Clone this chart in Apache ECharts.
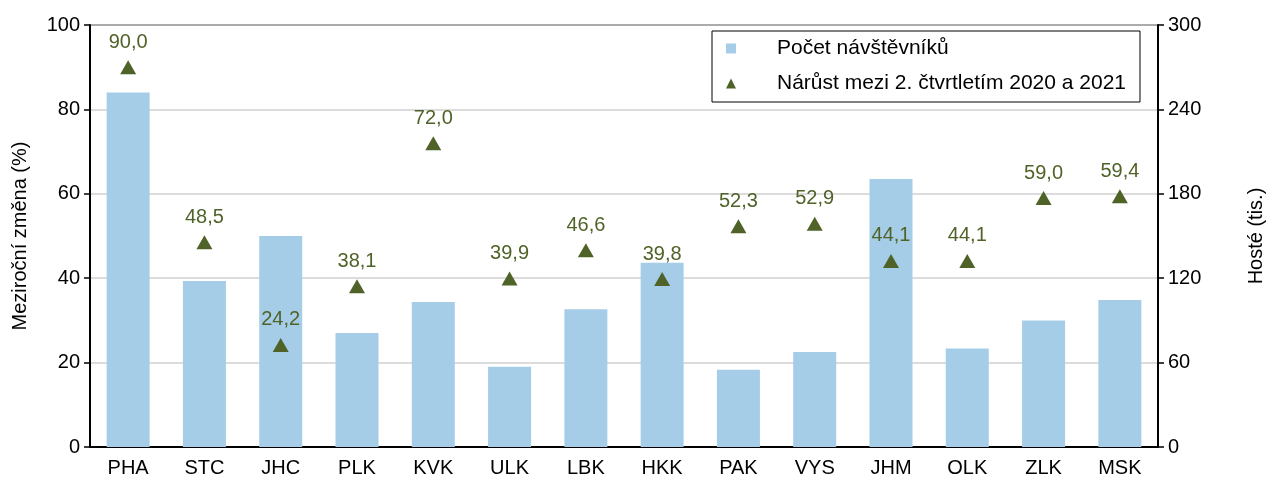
<!DOCTYPE html>
<html>
<head>
	<meta charset="UTF-8">
	<title>Návštěvníci podle krajů</title>
	<script src="https://cdn.jsdelivr.net/npm/echarts@6/dist/echarts.min.js"></script>
	<style>
		html, body { margin: 0; padding: 0; background: #fff; }
	</style>
</head>
<body>
	<div id="main" style="width: 1266px; height: 480px;"></div>
	<script>
		// kraje
		var regions = ['PHA', 'STC', 'JHC', 'PLK', 'KVK', 'ULK', 'LBK', 'HKK', 'PAK', 'VYS', 'JHM', 'OLK', 'ZLK', 'MSK'];
		// počet návštěvníků (tis.) - pravá osa
		var guests = [252, 118, 150, 81, 103, 57, 98, 131, 55, 67.5, 190.5, 70, 90, 104.5];
		// meziroční změna (%) - levá osa
		var growth = [90.0, 48.5, 24.2, 38.1, 72.0, 39.9, 46.6, 39.8, 52.3, 52.9, 44.1, 44.1, 59.0, 59.4];

		var leftTicks = [0, 20, 40, 60, 80, 100];
		var rightTicks = [0, 60, 120, 180, 240, 300];

		var font = 'Liberation Sans, Arial, sans-serif';
		var myChart = echarts.init(document.getElementById('main'));

		var option = {
			backgroundColor: '#fff',
			animation: false,
			textStyle: { fontFamily: font },
			grid: {
				left: 90, right: 108, top: 25, bottom: 33,
				containLabel: false,
				outerBoundsMode: 'none',
				show: true, borderColor: '#000', borderWidth: 1.5
			},
			legend: {
				orient: 'vertical',
				left: 712, top: 31,
				padding: [7, 14, 8, 14],
				borderColor: '#000',
				borderWidth: 1,
				itemGap: 14,
				itemWidth: 10,
				itemHeight: 10,
				textStyle: { fontSize: 21, color: '#000', fontFamily: font, padding: [0, 0, 0, 36] },
				data: [
					{ name: 'Počet návštěvníků', icon: 'rect' },
					{ name: 'Nárůst mezi 2. čtvrtletím 2020 a 2021', icon: 'triangle' }
				]
			},
			xAxis: {
				type: 'category',
				data: regions,
				axisLine: { lineStyle: { color: '#000', width: 2 } },
				axisTick: { show: false },
				axisLabel: { color: '#000', fontSize: 20, margin: 11, fontFamily: font }
			},
			yAxis: [{
				type: 'value',
				min: leftTicks[0], max: leftTicks[leftTicks.length - 1], interval: 20,
				name: 'Meziroční změna (%)',
				nameLocation: 'middle', nameGap: 60, nameRotate: 90,
				nameTextStyle: { fontSize: 20, color: '#000', fontFamily: font },
				axisLine: { show: true, lineStyle: { color: '#000', width: 2 } },
				axisTick: { show: true, length: 6, lineStyle: { color: '#000', width: 1.5 } },
				axisLabel: { color: '#000', fontSize: 20, margin: 10, fontFamily: font },
				splitLine: { lineStyle: { color: '#d0d0d0', width: 1.5 } }
			}, {
				type: 'value',
				min: rightTicks[0], max: rightTicks[rightTicks.length - 1], interval: 60,
				name: 'Hosté (tis.)',
				nameLocation: 'middle', nameGap: 88, nameRotate: 90,
				nameTextStyle: { fontSize: 20, color: '#000', fontFamily: font },
				axisLine: { show: true, lineStyle: { color: '#000', width: 2 } },
				axisTick: { show: true, length: 6, lineStyle: { color: '#000', width: 1.5 } },
				axisLabel: { color: '#000', fontSize: 20, margin: 10, fontFamily: font },
				splitLine: { show: false }
			}],
			series: [{
				name: 'Počet návštěvníků',
				type: 'bar',
				yAxisIndex: 1,
				barWidth: 43,
				itemStyle: { color: '#a6cde8' },
				data: guests,
				z: 2
			}, {
				name: 'Nárůst mezi 2. čtvrtletím 2020 a 2021',
				type: 'scatter',
				yAxisIndex: 0,
				symbol: 'triangle',
				symbolSize: [16, 14],
				itemStyle: { color: '#4f6228', opacity: 1 },
				label: {
					show: true,
					position: 'top',
					distance: 8,
					fontSize: 20,
					color: '#4f6228',
					fontFamily: font,
					formatter: function (p) { return p.value.toFixed(1).replace('.', ','); }
				},
				data: growth,
				z: 3
			}]
		};
		myChart.setOption(option);
	</script>
</body>
</html>
